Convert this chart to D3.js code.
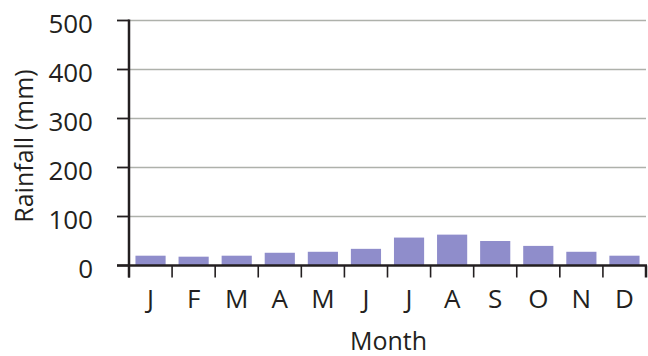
<!DOCTYPE html>
<html>
<head>
<meta charset="utf-8">
<script src="https://cdn.jsdelivr.net/npm/d3@7"></script>
<style>
  html, body { margin: 0; padding: 0; background: #fff; }
  svg { display: block; }
  text { font-family: "Open Sans", "Noto Sans", sans-serif; fill: #231f20; }
</style>
</head>
<body>
<svg id="chart" width="648" height="356"></svg>
<script>
const months = ["J", "F", "M", "A", "M", "J", "J", "A", "S", "O", "N", "D"];
const monthKeys = ["Jan", "Feb", "Mar", "Apr", "May", "Jun", "Jul", "Aug", "Sep", "Oct", "Nov", "Dec"];
const rainfall = [20, 18, 20, 26, 28, 34, 57, 63, 50, 40, 28, 20];
const yTicks = [0, 100, 200, 300, 400, 500];
const xTitle = "Month";
const yTitle = "Rainfall (mm)";

const svg = d3.select("#chart");
const plotL = 129, plotR = 646, plotT = 20.5, plotB = 265.5;

const x = d3.scaleBand().domain(monthKeys).range([plotL, plotR]).paddingInner(0.3).paddingOuter(0.15);
const y = d3.scaleLinear().domain([0, 500]).range([plotB, plotT]);

// gridlines
svg.append("g").selectAll("line").data(yTicks.filter(d => d > 0)).join("line")
  .attr("x1", plotL).attr("x2", plotR)
  .attr("y1", d => y(d)).attr("y2", d => y(d))
  .attr("stroke", "#aeb1ab").attr("stroke-width", 1.3);

// bars
svg.append("g").selectAll("rect").data(rainfall).join("rect")
  .attr("x", (d, i) => x(monthKeys[i]))
  .attr("width", x.bandwidth())
  .attr("y", d => y(d))
  .attr("height", d => y(0) - y(d))
  .attr("fill", "#8f8dcb");

// y axis
const yAxis = svg.append("g");
yAxis.append("line").attr("x1", plotL).attr("x2", plotL).attr("y1", plotT - 1).attr("y2", plotB + 12)
  .attr("stroke", "#231f20").attr("stroke-width", 2.5);
yAxis.selectAll("line.tick").data(yTicks).join("line").attr("class", "tick")
  .attr("x1", plotL - 12).attr("x2", plotL)
  .attr("y1", d => y(d)).attr("y2", d => y(d))
  .attr("stroke", "#231f20").attr("stroke-width", 1.8);
yAxis.selectAll("text").data(yTicks).join("text")
  .attr("x", 93).attr("y", d => y(d) + 2)
  .attr("text-anchor", "end").attr("dominant-baseline", "central")
  .style("font-size", "26px")
  .text(d => d);

// x axis
const xAxis = svg.append("g");
xAxis.append("line").attr("x1", plotL - 12).attr("x2", plotR + 1).attr("y1", plotB).attr("y2", plotB)
  .attr("stroke", "#231f20").attr("stroke-width", 2.5);
const step = x.step();
const x0 = x(monthKeys[0]) - step * x.paddingInner() / 2;
const bounds = d3.range(monthKeys.length + 1).map(i => x0 + i * step);
xAxis.selectAll("line.tick").data(bounds).join("line").attr("class", "tick")
  .attr("x1", d => d).attr("x2", d => d)
  .attr("y1", plotB).attr("y2", plotB + 12)
  .attr("stroke", "#231f20").attr("stroke-width", (d, i) => i === bounds.length - 1 ? 2.5 : 1.6);
xAxis.selectAll("text").data(months).join("text")
  .attr("x", (d, i) => x(monthKeys[i]) + x.bandwidth() / 2)
  .attr("y", 308)
  .attr("text-anchor", "middle")
  .style("font-size", "26px")
  .text(d => d);

// titles
svg.append("text").attr("x", (plotL + plotR) / 2 + 1).attr("y", 350)
  .attr("text-anchor", "middle").style("font-size", "25px").text(xTitle);
svg.append("text").attr("transform", "translate(33,146) rotate(-90)")
  .attr("text-anchor", "middle").style("font-size", "25px").text(yTitle);
</script>
</body>
</html>
